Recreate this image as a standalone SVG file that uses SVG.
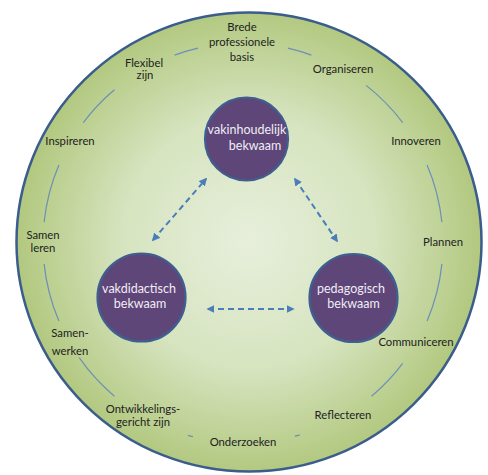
<svg xmlns="http://www.w3.org/2000/svg" width="488" height="475" viewBox="0 0 488 475">
<defs>
<radialGradient id="bg" cx="249" cy="242" r="232" gradientUnits="userSpaceOnUse">
<stop offset="0" stop-color="#e7efdc"/>
<stop offset="0.55" stop-color="#d6e4bf"/>
<stop offset="1" stop-color="#b2c87f"/>
</radialGradient>
<marker id="ah" viewBox="0 0 10 10" refX="8" refY="5" markerWidth="4" markerHeight="4" orient="auto-start-reverse" markerUnits="strokeWidth">
<path d="M0,0 L10,5 L0,10 z" fill="#4a7ebb"/>
</marker>
<style>
.lbl{font-family:Lato,"Noto Sans","Liberation Sans",sans-serif;font-size:11.3px;fill:#222222;text-anchor:middle}
.ntx{font-family:Lato,"Noto Sans","Liberation Sans",sans-serif;font-size:12.5px;fill:#f1ecf6;text-anchor:middle}
.node{fill:#5e4678;stroke:#3f5f90;stroke-width:2.2}
.ring{fill:none;stroke:#6e8fb6;stroke-width:1.2}
.arr{fill:none;stroke:#4a7ebb;stroke-width:2;stroke-dasharray:6 4;marker-start:url(#ah);marker-end:url(#ah)}
</style>
</defs>
<rect width="488" height="475" fill="#ffffff"/>
<g id="outer">
<ellipse cx="249" cy="242" rx="232.5" ry="229.5" fill="url(#bg)" stroke="#3a5d8c" stroke-width="2.5"/>
</g>
<g id="ring">
<path class="ring" d="M174.6,55.1 A200,200 0 0 1 198.0,48.1"/>
<path class="ring" d="M288.0,48.1 A200,200 0 0 1 311.4,55.1"/>
<path class="ring" d="M83.3,122.6 A200,200 0 0 1 114.4,89.8"/>
<path class="ring" d="M366.1,85.4 A200,200 0 0 1 402.7,122.6"/>
<path class="ring" d="M44.1,222.1 A200,200 0 0 1 58.9,164.9"/>
<path class="ring" d="M58.9,321.1 A200,200 0 0 1 44.1,263.9"/>
<path class="ring" d="M114.4,396.2 A200,200 0 0 1 79.2,357.7"/>
<path class="ring" d="M192.9,436.6 A200,200 0 0 1 187.9,435.3"/>
<path class="ring" d="M299.8,434.8 A200,200 0 0 1 294.8,436.2"/>
<path class="ring" d="M402.7,363.4 A200,200 0 0 1 371.6,396.2"/>
<path class="ring" d="M441.9,263.9 A200,200 0 0 1 427.1,321.1"/>
<path class="ring" d="M427.1,164.9 A200,200 0 0 1 441.9,222.1"/>
</g>
<g id="labels">
<text class="lbl" x="242" y="31">Brede</text>
<text class="lbl" x="242" y="46">professionele</text>
<text class="lbl" x="242" y="61">basis</text>
<text class="lbl" x="144" y="67">Flexibel</text>
<text class="lbl" x="145" y="79">zijn</text>
<text class="lbl" x="343" y="73">Organiseren</text>
<text class="lbl" x="70" y="145">Inspireren</text>
<text class="lbl" x="416" y="145">Innoveren</text>
<text class="lbl" x="43" y="239">Samen</text>
<text class="lbl" x="43" y="252">leren</text>
<text class="lbl" x="443" y="246">Plannen</text>
<text class="lbl" x="70" y="337">Samen-</text>
<text class="lbl" x="70" y="355">werken</text>
<text class="lbl" x="416" y="346">Communiceren</text>
<text class="lbl" x="143" y="413">Ontwikkelings-</text>
<text class="lbl" x="143" y="426">gericht zijn</text>
<text class="lbl" x="343" y="419">Reflecteren</text>
<text class="lbl" x="243" y="446">Onderzoeken</text>
</g>
<g id="connectors">
<line class="arr" x1="153" y1="240" x2="206" y2="179"/>
<line class="arr" x1="295" y1="179" x2="337" y2="241"/>
<line class="arr" x1="208" y1="309" x2="293" y2="309"/>
</g>
<g id="node-vakinhoudelijk">
<circle class="node" cx="246.5" cy="139" r="41.5"/>
<text class="ntx" x="247" y="134">vakinhoudelijk</text>
<text class="ntx" x="255" y="150">bekwaam</text>
</g>
<g id="node-vakdidactisch">
<circle class="node" cx="141.5" cy="297.5" r="44"/>
<text class="ntx" x="139" y="293">vakdidactisch</text>
<text class="ntx" x="140" y="308">bekwaam</text>
</g>
<g id="node-pedagogisch">
<circle class="node" cx="353.5" cy="298" r="44"/>
<text class="ntx" x="351" y="293">pedagogisch</text>
<text class="ntx" x="353.5" y="308">bekwaam</text>
</g>
</svg>
